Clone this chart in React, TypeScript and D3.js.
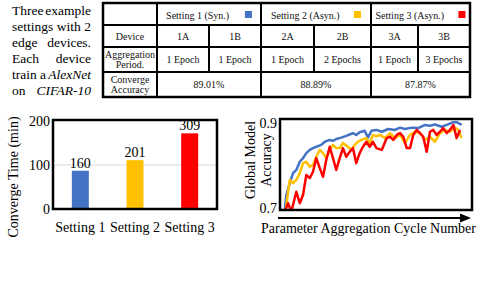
import React from 'react';
import * as d3 from 'd3';

// intro paragraph, each line split in a left-aligned and right-aligned part
const introLines: [string, string, boolean][] = [
  ['Three', 'example', false],
  ['settings with', '2', false],
  ['edge', 'devices.', false],
  ['Each', 'device', false],
  ['train a', 'AlexNet', true],
  ['on', 'CIFAR-10', true],
];

// table
const settingNames = ['Setting 1 (Syn.)', 'Setting 2 (Asyn.)', 'Setting 3 (Asyn.)'];
const settingColors = ['#4472C4', '#FFC000', '#FF0000'];
const devices = ['1A', '1B', '2A', '2B', '3A', '3B'];
const periods = ['1 Epoch', '1 Epoch', '1 Epoch', '2 Epochs', '1 Epoch', '3 Epochs'];
const accuracies = ['89.01%', '88.89%', '87.87%'];
const rowLabels = [[''], ['Device'], ['Aggregation', 'Period.'], ['Converge', 'Accuracy']];

// bar chart
const barCategories = ['Setting 1', 'Setting 2', 'Setting 3'];
const barHeights = [87, 111, 172]; // as drawn
const barLabels = ['160', '201', '309'];
const barTicks = [0, 100, 200];

// accuracy curves: [cycle, accuracy]
const blueSeries: [number, number][] = [
  [2.4, 0.696], [3.3, 0.733], [5.1, 0.759], [6.8, 0.781], [8.5, 0.788], [10.3, 0.806],
  [12.0, 0.814], [13.7, 0.825], [15.5, 0.832], [17.2, 0.836], [18.9, 0.839], [21.5, 0.843],
  [23.3, 0.850], [25.9, 0.854], [27.6, 0.852], [29.3, 0.856], [31.9, 0.859], [34.5, 0.863],
  [36.3, 0.866], [38.0, 0.869], [39.7, 0.865], [41.5, 0.871], [44.1, 0.874], [45.8, 0.859],
  [47.6, 0.874], [50.2, 0.876], [53.0, 0.872], [56.4, 0.878], [59.9, 0.876], [62.5, 0.881],
  [65.1, 0.878], [68.6, 0.881], [72.0, 0.880], [75.5, 0.887], [78.1, 0.885], [80.7, 0.888],
  [84.2, 0.883], [86.8, 0.887], [90.3, 0.893], [92.0, 0.893], [94.6, 0.887],
];
const yellowSeries: [number, number][] = [
  [2.8, 0.696], [5.1, 0.766], [6.8, 0.759], [8.5, 0.766], [10.3, 0.781], [12.0, 0.803],
  [13.7, 0.806], [15.5, 0.795], [17.2, 0.799], [18.9, 0.817], [20.7, 0.832], [22.4, 0.825],
  [24.1, 0.814], [25.9, 0.832], [27.6, 0.843], [29.3, 0.836], [31.1, 0.836], [32.8, 0.847],
  [35.4, 0.839], [37.1, 0.832], [38.9, 0.843], [40.6, 0.850], [42.3, 0.854], [45.0, 0.858],
  [46.7, 0.847], [48.4, 0.865], [50.2, 0.862], [52.1, 0.865], [54.7, 0.858], [57.3, 0.869],
  [59.9, 0.858], [62.5, 0.865], [65.1, 0.847], [67.7, 0.865], [70.3, 0.872], [72.9, 0.869],
  [75.5, 0.854], [78.1, 0.861], [80.7, 0.850], [83.3, 0.869], [85.9, 0.876], [88.5, 0.872],
  [91.1, 0.881], [92.9, 0.876], [94.6, 0.858],
];
const redSeries: [number, number][] = [
  [2.4, 0.696], [4.2, 0.715], [5.9, 0.696], [8.5, 0.740], [10.3, 0.715], [12.0, 0.733],
  [13.7, 0.777], [15.5, 0.770], [17.2, 0.784], [18.9, 0.814], [20.7, 0.792], [22.4, 0.773],
  [24.1, 0.810], [25.9, 0.839], [27.6, 0.814], [29.3, 0.788], [31.1, 0.814], [32.8, 0.836],
  [34.5, 0.817], [36.3, 0.828], [38.0, 0.836], [39.7, 0.803], [41.5, 0.825], [43.2, 0.839],
  [45.0, 0.850], [46.7, 0.839], [48.4, 0.850], [50.2, 0.836], [53.0, 0.832], [55.6, 0.858],
  [57.3, 0.861], [59.0, 0.854], [60.8, 0.865], [62.5, 0.869], [64.2, 0.861], [66.0, 0.836],
  [67.7, 0.836], [69.4, 0.865], [71.2, 0.876], [72.9, 0.869], [74.6, 0.861], [76.4, 0.828],
  [78.1, 0.872], [79.8, 0.876], [81.6, 0.865], [83.3, 0.872], [85.0, 0.880], [86.8, 0.869],
  [88.5, 0.876], [90.3, 0.887], [92.0, 0.858], [93.8, 0.876],
];
const lineSeries = [blueSeries, yellowSeries, redSeries];
const accTicks = [0.7, 0.9];

const FONT = '"Liberation Serif", "Times New Roman", serif';

const App: React.FC = () => {
  // table geometry
  const colX = [103, 157, 209, 261, 314, 371, 418, 470];
  const rowY = [3, 25, 47, 72, 97];

  // bar chart scales
  const barFrame = { left: 53, right: 217, top: 120, bottom: 209 };
  const xBar = d3.scaleBand().domain(barCategories).range([barFrame.left, barFrame.right]).padding(0);
  const yBar = d3.scaleLinear().domain([0, 200]).range([barFrame.bottom, barFrame.top + 1]);
  const barW = 17;

  // line chart scales
  const lf = { left: 280, right: 472, top: 119, bottom: 210 };
  const xLine = d3.scaleLinear().domain([0, 100]).range([lf.left, lf.right]);
  const yLine = d3.scaleLinear().domain([0.7, 0.9]).range([lf.bottom, lf.top]);
  const line = d3.line<[number, number]>().x(d => xLine(d[0])).y(d => yLine(d[1]));

  const cellCenter = (i: number) => (colX[i] + colX[i + 1]) / 2;
  const settingCenter = (s: number) => (colX[1 + 2 * s] + colX[3 + 2 * s]) / 2;

  return (
    <svg width={484} height={293} style={{ position: 'absolute', left: 0, top: 0, background: '#fff' }}
      fontFamily={FONT}>
      <defs>
        <clipPath id="lineClip">
          <rect x={lf.left} y={lf.top} width={lf.right - lf.left} height={lf.bottom - lf.top} />
        </clipPath>
      </defs>

      {/* intro paragraph */}
      {introLines.map((l, i) => (
        <g key={i} fontSize={13.5} fill="#000">
          <text x={12} y={15 + i * 16}>{l[0]}</text>
          <text x={91} y={15 + i * 16} textAnchor="end" fontStyle={l[2] ? 'italic' : 'normal'}>{l[1]}</text>
        </g>
      ))}

      {/* table */}
      <g fontSize={10} fill="#111" textAnchor="middle">
        {rowLabels.map((lines, r) => {
          const cy = (rowY[r] + rowY[r + 1]) / 2;
          return lines.map((t, k) => (
            <text key={`${r}-${k}`} x={(colX[0] + colX[1]) / 2}
              y={cy + 3.5 + (k - (lines.length - 1) / 2) * 10}>{t}</text>
          ));
        })}
        {settingNames.map((s, i) => {
          const c = settingCenter(i);
          const textW = s.length * 4.05;
          const groupW = textW + 14 + 7;
          const x0 = c - groupW / 2;
          return (
            <g key={s}>
              <text x={x0} y={18.5} textAnchor="start">{s}</text>
              <rect x={x0 + groupW - 7} y={11} width={7} height={7} fill={settingColors[i]} />
            </g>
          );
        })}
        {devices.map((d, i) => (
          <text key={d} x={cellCenter(i + 1)} y={39.5}>{d}</text>
        ))}
        {periods.map((p, i) => (
          <text key={i} x={cellCenter(i + 1)} y={63}>{p}</text>
        ))}
        {accuracies.map((a, i) => (
          <text key={a} x={settingCenter(i)} y={88}>{a}</text>
        ))}
      </g>
      <g stroke="#000" fill="none">
        {rowY.slice(1, -1).map(y => (
          <line key={y} x1={colX[0]} x2={colX[7]} y1={y} y2={y} strokeWidth={2} />
        ))}
        {colX.slice(1, -1).map((x, i) => {
          const isSub = i % 2 === 1; // device split lines
          return <line key={x} x1={x} x2={x} y1={isSub ? rowY[1] : rowY[0]} y2={isSub ? rowY[3] : rowY[4]} strokeWidth={2} />;
        })}
        <rect x={colX[0]} y={rowY[0]} width={colX[7] - colX[0]} height={rowY[4] - rowY[0]} strokeWidth={2.5} />
      </g>

      {/* bar chart */}
      <line x1={barFrame.left} x2={barFrame.right} y1={yBar(100)} y2={yBar(100)} stroke="#d9d9d9" strokeWidth={1} />
      {barCategories.map((c, i) => {
        const cx = xBar(c)! + xBar.bandwidth() / 2;
        return (
          <g key={c}>
            <rect x={cx - barW / 2} y={yBar(barHeights[i])} width={barW}
              height={yBar(0) - yBar(barHeights[i])} fill={settingColors[i]} />
            <text x={cx} y={yBar(barHeights[i]) - 3} textAnchor="middle" fontSize={14}>{barLabels[i]}</text>
            <text x={cx} y={232} textAnchor="middle" fontSize={14}>{c}</text>
          </g>
        );
      })}
      <rect x={barFrame.left} y={barFrame.top} width={barFrame.right - barFrame.left}
        height={barFrame.bottom - barFrame.top} fill="none" stroke="#000" strokeWidth={2.5} />
      {barTicks.map(t => (
        <text key={t} x={50} y={yBar(t) + 5} textAnchor="end" fontSize={14}>{t}</text>
      ))}
      <text transform="translate(18,177) rotate(-90)" textAnchor="middle" fontSize={14}>Converge Time (min)</text>

      {/* line chart */}
      <g clipPath="url(#lineClip)">
        {lineSeries.map((s, i) => (
          <path key={i} d={line(s) || ''} fill="none" stroke={settingColors[i]} strokeWidth={2.5}
            strokeLinejoin="round" />
        ))}
      </g>
      <rect x={lf.left} y={lf.top} width={lf.right - lf.left} height={lf.bottom - lf.top}
        fill="none" stroke="#000" strokeWidth={2.5} />
      {accTicks.map(t => (
        <text key={t} x={277} y={t === 0.9 ? yLine(t) + 9 : yLine(t) + 3} textAnchor="end" fontSize={14}>
          {d3.format('.1f')(t)}
        </text>
      ))}
      <text transform="translate(255,160) rotate(-90)" textAnchor="middle" fontSize={14}>Global Model</text>
      <text transform="translate(270.5,160) rotate(-90)" textAnchor="middle" fontSize={14}>Accuracy</text>
      <line x1={278} x2={463} y1={218} y2={218} stroke="#000" strokeWidth={2} />
      <path d="M460,213.5 L471,218 L460,222.5 Z" fill="#000" />
      <text x={368.5} y={232.5} textAnchor="middle" fontSize={14}>Parameter Aggregation Cycle Number</text>
    </svg>
  );
};

export default App;
